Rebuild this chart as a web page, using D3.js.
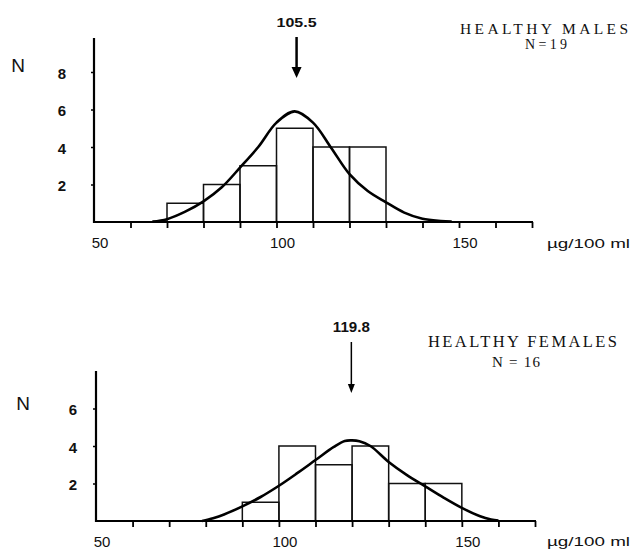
<!DOCTYPE html>
<html><head><meta charset="utf-8">
<script src="https://cdn.jsdelivr.net/npm/d3@7"></script>
<style>body{margin:0;background:#fff}svg{display:block}</style></head>
<body><svg id="c" width="631" height="552"></svg>
<script>
// ---------- data ----------
const xTicks = [60, 70, 80, 90, 100, 110, 120, 130, 140, 150, 160, 170];
const xTickLabels = [50, 100, 150];
const binWidth = 10;
const maleBinStart = [70, 80, 90, 100, 110, 120];
const maleCounts = [1, 2, 3, 5, 4, 4];
const femaleBinStart = [90, 100, 110, 120, 130, 140];
const femaleCounts = [1, 4, 3, 4, 2, 2];
const maleCurveX = [66, 70, 75, 80, 85, 90, 95, 100, 105, 110, 115, 120, 125, 130, 135, 140, 145, 148];
const maleCurveY = [0.02, 0.15, 0.55, 1.1, 1.85, 2.9, 4.0, 5.3, 5.9, 5.3, 3.95, 2.55, 1.65, 1.05, 0.5, 0.17, 0.05, 0.02];
const femaleCurveX = [79, 82, 85, 90, 95, 100, 105, 110, 115, 118, 120, 122, 125, 130, 135, 140, 145, 150, 155, 158, 160];
const femaleCurveY = [0.0, 0.15, 0.35, 0.78, 1.28, 1.88, 2.55, 3.25, 3.95, 4.27, 4.3, 4.25, 4.0, 3.15, 2.45, 1.85, 1.25, 0.7, 0.25, 0.08, 0.02];
const maleYTicks = [2, 4, 6, 8];
const femaleYTicks = [2, 4, 6];
const maleMean = 105.5, femaleMean = 119.8;
const titles = ["HEALTHY MALES", "HEALTHY FEMALES"];
const nLabels = ["N=19", "N = 16"];
const unitLabel = "\u00b5g/100 ml";
const axisLetter = "N";

// ---------- layout ----------
const panels = [
  {bins: maleBinStart, counts: maleCounts, cx: maleCurveX, cy: maleCurveY, yTicks: maleYTicks, mean: maleMean,
   title: titles[0], nLabel: nLabels[0],
   x0: 94, x1: 532, base: 222, axisTop: 38, yLabelX: 62, nX: 18, nBase: 72,
   titleX: 544, titleBase: 33.5, titleLen: 168, titleSize: 15.5,
   nLX: 546, nLBase: 49, nLLen: 42, nLSize: 14,
   meanBase: 26.7, meanSize: 12, meanLen: 40,
   arrowTop: 37, arrowTip: 78, arrowW: 2.5, headW: 10, headH: 11,
   xLabelC: 242.5, unitC: 243},
  {bins: femaleBinStart, counts: femaleCounts, cx: femaleCurveX, cy: femaleCurveY, yTicks: femaleYTicks, mean: femaleMean,
   title: titles[1], nLabel: nLabels[1],
   x0: 96, x1: 535, base: 521, axisTop: 371, yLabelX: 73, nX: 23, nBase: 410,
   titleX: 522.5, titleBase: 347, titleLen: 189, titleSize: 16.5,
   nLX: 516, nLBase: 367, nLLen: 48, nLSize: 15,
   meanBase: 331.5, meanSize: 15, meanLen: 37,
   arrowTop: 342, arrowTip: 393, arrowW: 1.5, headW: 7, headH: 9,
   xLabelC: 542, unitC: 541}
];

const svg = d3.select("#c");
svg.append("rect").attr("width", 631).attr("height", 552).attr("fill", "#fff");

panels.forEach(p => {
  const g = svg.append("g");
  const x = d3.scaleLinear().domain([50, 170]).range([p.x0, p.x1]);
  const y = d3.scaleLinear().domain([0, 8]).range([p.base, p.base - 150]);

  // bars
  g.selectAll("rect.bar").data(p.bins.map((b, i) => ({b, c: p.counts[i]}))).enter()
    .append("rect").attr("class", "bar")
    .attr("x", d => x(d.b)).attr("width", d => x(d.b + binWidth) - x(d.b))
    .attr("y", d => y(d.c)).attr("height", d => y(0) - y(d.c))
    .attr("fill", "none").attr("stroke", "#111").attr("stroke-width", 1.5);

  // curve
  const pts = p.cx.map((v, i) => [v, p.cy[i]]);
  g.append("path").datum(pts)
    .attr("d", d3.line().x(d => x(d[0])).y(d => y(d[1])).curve(d3.curveCatmullRom))
    .attr("fill", "none").attr("stroke", "#000").attr("stroke-width", 2.6);

  // x axis
  const xa = g.append("g").attr("transform", `translate(0,${p.base})`)
    .call(d3.axisBottom(x).tickValues(xTicks).tickSize(6).tickFormat(""));
  xa.select(".domain").remove();
  xa.selectAll("line").attr("stroke", "#000").attr("stroke-width", 1.8);
  g.append("line").attr("x1", x(50) - 1).attr("x2", x(170) + 1)
    .attr("y1", p.base).attr("y2", p.base).attr("stroke", "#000").attr("stroke-width", 2.2);
  g.selectAll("text.xl").data(xTickLabels).enter().append("text")
    .attr("x", d => x(d) + 6).attr("y", p.xLabelC + 0.358 * 15)
    .attr("text-anchor", "middle").attr("font-family", "Liberation Sans, Arial, sans-serif")
    .attr("font-size", 15).attr("fill", "#111").text(d => d);
  g.append("text").attr("x", 630).attr("y", p.unitC + 0.358 * 13)
    .attr("text-anchor", "end").attr("font-family", "Liberation Sans, Arial, sans-serif")
    .attr("font-size", 13).attr("textLength", 83).attr("lengthAdjust", "spacingAndGlyphs")
    .attr("fill", "#111").text(unitLabel);

  // y axis
  const ya = g.append("g").attr("transform", `translate(${p.x0},0)`)
    .call(d3.axisLeft(y).tickValues(p.yTicks).tickSize(3).tickFormat(""));
  ya.select(".domain").remove();
  ya.selectAll("line").attr("stroke", "#000").attr("stroke-width", 1.5);
  g.append("line").attr("x1", p.x0).attr("x2", p.x0)
    .attr("y1", p.base + 1).attr("y2", p.axisTop).attr("stroke", "#000").attr("stroke-width", 2.2);
  g.selectAll("text.yl").data(p.yTicks).enter().append("text")
    .attr("x", p.yLabelX).attr("y", d => y(d) + 1.5 + 0.358 * 15)
    .attr("text-anchor", "middle").attr("font-family", "Liberation Sans, Arial, sans-serif")
    .attr("font-weight", "bold").attr("font-size", 15).attr("fill", "#111").text(d => d);
  g.append("text").attr("x", p.nX).attr("y", p.nBase).attr("text-anchor", "middle")
    .attr("font-family", "Liberation Sans, Arial, sans-serif").attr("font-size", 19)
    .attr("fill", "#111").text(axisLetter);

  // titles
  g.append("text").attr("x", p.titleX).attr("y", p.titleBase).attr("text-anchor", "middle")
    .attr("font-family", "Liberation Serif, Times New Roman, serif").attr("font-size", p.titleSize)
    .attr("textLength", p.titleLen).attr("lengthAdjust", "spacing").attr("fill", "#111").text(p.title);
  g.append("text").attr("x", p.nLX).attr("y", p.nLBase).attr("text-anchor", "middle")
    .attr("font-family", "Liberation Serif, Times New Roman, serif").attr("font-size", p.nLSize)
    .attr("textLength", p.nLLen).attr("lengthAdjust", "spacing").attr("fill", "#111").text(p.nLabel);

  // mean arrow
  const mx = x(p.mean);
  g.append("text").attr("x", mx).attr("y", p.meanBase).attr("text-anchor", "middle")
    .attr("font-family", "Liberation Sans, Arial, sans-serif").attr("font-weight", "bold")
    .attr("font-size", p.meanSize).attr("textLength", p.meanLen).attr("lengthAdjust", "spacingAndGlyphs")
    .attr("fill", "#111").text(p.mean.toFixed(1));
  g.append("line").attr("x1", mx).attr("x2", mx).attr("y1", p.arrowTop).attr("y2", p.arrowTip - p.headH + 1)
    .attr("stroke", "#000").attr("stroke-width", p.arrowW);
  g.append("path")
    .attr("d", `M${mx - p.headW / 2},${p.arrowTip - p.headH} L${mx + p.headW / 2},${p.arrowTip - p.headH} L${mx},${p.arrowTip} Z`)
    .attr("fill", "#000");
});
</script>
</body></html>
